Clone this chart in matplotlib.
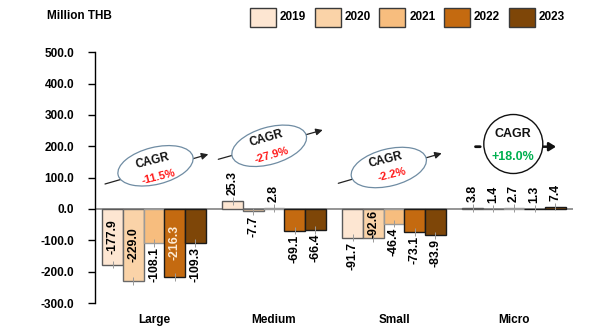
import matplotlib
matplotlib.use("Agg")
import matplotlib.pyplot as plt
from matplotlib.patches import Ellipse, Circle, Rectangle, FancyArrowPatch
from matplotlib.transforms import Affine2D
import numpy as np

plt.rcParams["font.family"] = ["Liberation Sans", "DejaVu Sans"]

# ---- data ----
categories = ["Large", "Medium", "Small", "Micro"]
years = ["2019", "2020", "2021", "2022", "2023"]
v2019 = [-177.9, 25.3, -91.7, 3.8]
v2020 = [-229.0, -7.7, -92.6, 1.4]
v2021 = [-108.1, 2.8, -46.4, 2.7]
v2022 = [-216.3, -69.1, -73.1, 1.3]
v2023 = [-109.3, -66.4, -83.9, 7.4]
cagr_labels = ["-11.5%", "-27.9%", "-2.2%", "+18.0%"]
y_ticks = [-300, -200, -100, 0, 100, 200, 300, 400, 500]
unit_label = "Million THB"

series = [v2019, v2020, v2021, v2022, v2023]

# ---- style ----
fills = ["#FDE6D2", "#FAD3A8", "#F7BD7E", "#C46A10", "#7E4608"]
edges = ["#5A5A5A", "#6A6A6A", "#9A9A9A", "#1A1A1A", "#1A1A1A"]
# labels drawn in the middle of the bar instead of past its end
inside = {(0, 0), (1, 0), (3, 0), (1, 2)}
inside_color = {(3, 0): "#FCEBD6"}

W, H = 600, 329
fig = plt.figure(figsize=(W / 100, H / 100), dpi=100)
ax = fig.add_axes([95 / W, 1 - 303 / H, (573 - 95) / W, (303 - 52.3) / H])

bw = 0.1725
x = np.arange(len(categories))
lab_kw = dict(rotation=90, fontsize=8.8, fontweight="bold", zorder=4)
for j, vals in enumerate(series):
    xs = x + (j - 2) * bw
    ax.bar(xs, vals, width=bw, color=fills[j], edgecolor=edges[j],
           linewidth=1.0, zorder=2)
    ax.errorbar(xs, vals, yerr=12, fmt="none", ecolor="#9A9A9A",
                elinewidth=0.7, capsize=0, zorder=3)
    for i, v in enumerate(vals):
        txt = f"{v:.1f}"
        if (j, i) in inside:
            ax.annotate(txt, (xs[i], v / 2), ha="center", va="center",
                        color=inside_color.get((j, i), "black"), **lab_kw)
        elif v >= 0:
            ax.annotate(txt, (xs[i], v), xytext=(0, 4.3), textcoords="offset points",
                        ha="center", va="bottom", color="black", **lab_kw)
        else:
            ax.annotate(txt, (xs[i], v), xytext=(0, -3), textcoords="offset points",
                        ha="center", va="top", color="black", **lab_kw)

ax.axhline(0, color="#8C8C8C", linewidth=1.3, zorder=1)
ax.set_xlim(-0.4917, 3.4917)
ax.set_ylim(-300, 500)
ax.set_yticks(y_ticks)
ax.set_yticklabels([f"{t:.1f}" for t in y_ticks], fontsize=8.5, fontweight="bold")
ax.set_xticks(x)
ax.set_xticklabels(categories, fontsize=8.5, fontweight="bold")
ax.tick_params(axis="y", direction="out", length=5, width=1, pad=10)
ax.tick_params(axis="x", length=0, pad=8)
for s in ["top", "right", "bottom"]:
    ax.spines[s].set_visible(False)
ax.spines["left"].set_linewidth(1.0)
ax.spines["left"].set_color("black")

# ---- pixel-space overlay (origin top-left) ----
pix = Affine2D().scale(1, -1).translate(0, H)

fig.text(47, 16, unit_label, transform=pix, fontsize=8.5, fontweight="bold",
         ha="left", va="center")

# legend
for j, yr in enumerate(years):
    x0 = 250 + j * 64.7
    fig.add_artist(Rectangle((x0, 26.7), 26, -18.4, transform=pix,
                             facecolor=fills[j], edgecolor="#3A3A3A", linewidth=1.0))
    fig.text(x0 + 30, 17.5, yr, transform=pix, fontsize=8.5, fontweight="bold",
             ha="left", va="center")

# CAGR ovals for the first three groups
ovals = [
    dict(c=(155.5, 165.8), ang=14, start=(105, 184), end=(208.3, 154.3),
         t1=(152.7, 160.5), t2=(158.3, 176.7)),
    dict(c=(269.2, 145.8), ang=16, start=(218.3, 159.3), end=(322.7, 130),
         t1=(266.7, 138.3), t2=(271.7, 155.0)),
    dict(c=(388.8, 167.5), ang=14, start=(338.3, 183.3), end=(441.7, 153.3),
         t1=(386.0, 160.0), t2=(391.7, 175.0)),
]
for k, o in enumerate(ovals):
    fig.add_artist(FancyArrowPatch(o["start"], o["end"], transform=pix,
                                   arrowstyle="-|>,head_length=4,head_width=2",
                                   color="#222222", linewidth=0.9,
                                   shrinkA=0, shrinkB=0, zorder=5))
    fig.add_artist(Ellipse(o["c"], 77, 37, angle=-o["ang"], transform=pix,
                           facecolor="white", edgecolor="#6F8CA3",
                           linewidth=0.9, zorder=6))
    fig.text(*o["t1"], "CAGR", transform=pix, rotation=o["ang"], fontsize=8.5,
             fontweight="bold", ha="center", va="center", color="#111111",
             zorder=7)
    fig.text(*o["t2"], cagr_labels[k], transform=pix, rotation=o["ang"],
             fontsize=8, fontweight="bold", ha="center", va="center",
             color="#FF1A1A", zorder=7)

# CAGR circle for the Micro group
cx, cy, r = 513.3, 144.0, 29.5
fig.add_artist(FancyArrowPatch((472.7, 146.7), (483.0, 146.7), transform=pix,
                               arrowstyle="-", color="#111111", linewidth=2.0,
                               zorder=5))
fig.add_artist(FancyArrowPatch((543.0, 146.7), (556.0, 146.7), transform=pix,
                               arrowstyle="-|>,head_length=4,head_width=2.5",
                               color="#111111", linewidth=1.8,
                               shrinkA=0, shrinkB=0, zorder=5))
fig.add_artist(Circle((cx, cy), r, transform=pix, facecolor="white",
                      edgecolor="#111111", linewidth=1.0, zorder=6))
fig.text(cx, 134, "CAGR", transform=pix, fontsize=9, fontweight="bold",
         ha="center", va="center", color="#111111", zorder=7)
fig.text(cx, 156.7, cagr_labels[3], transform=pix, fontsize=9, fontweight="bold",
         ha="center", va="center", color="#00B050", zorder=7)

fig.savefig("out.png", dpi=100, facecolor="white")
